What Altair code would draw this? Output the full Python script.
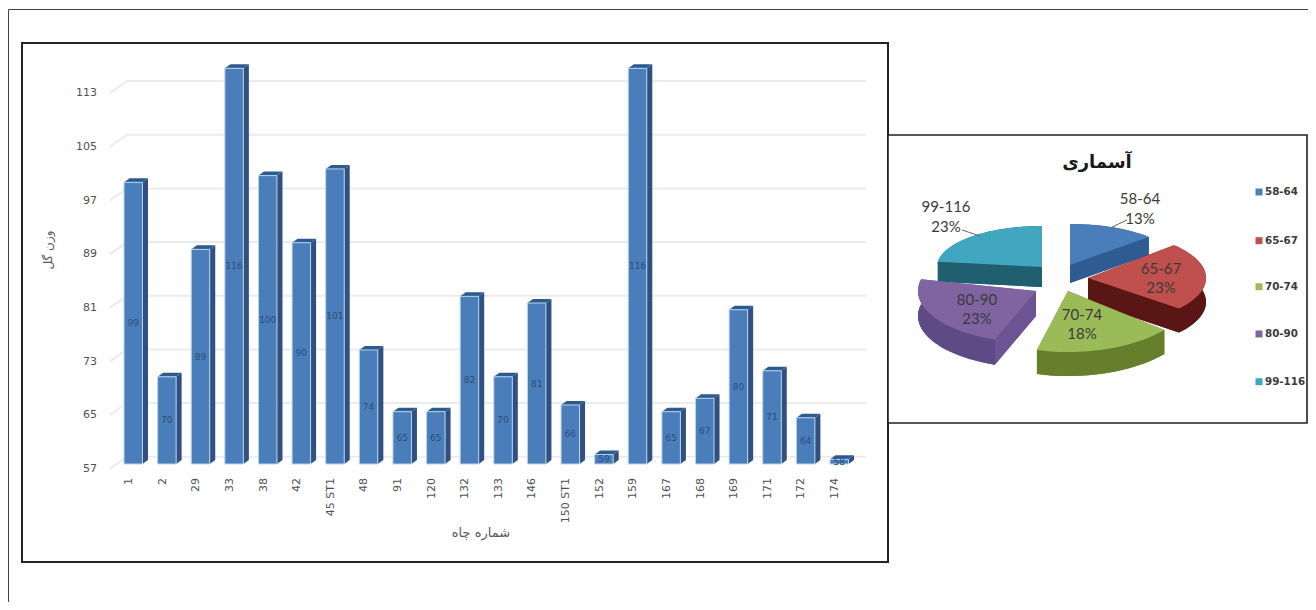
import math
import altair as alt
import pandas as pd

# ---------- data ----------
wells = ["1","2","29","33","38","42","45 ST1","48","91","120","132","133","146","150 ST1","152","159","167","168","169","171","172","174"]
weights = [99,70,89,116,100,90,101,74,65,65,82,70,81,66,59,116,65,67,80,71,64,58]
heights = [99,70,89,116,100,90,101,74,64.8,64.8,82,70,81,65.8,58.4,116,64.8,66.8,80,70.9,63.9,57.7]
y_ticks = [57,65,73,81,89,97,105,113]
ranges = ["58-64","65-67","70-74","80-90","99-116"]
shares = [13,23,18,23,23]
top_colors = ["#4a7ebb","#c0504d","#9bbb59","#8064a2","#41a7c1"]
side_colors = ["#28527f","#5a1614","#657f2d","#5e4a85","#1b5565"]
wall_colors = ["#2e5c92","#5a1614","#657f2d","#6b5394","#1f5f70"]

# ---------- layout ----------
W, H = 1300, 594
BASE = 57
FACE_W, DEP_X, DEP_V = 0.55, 0.164, 0.6
GRID_SHIFT = 1.09
x_scale = alt.Scale(domain=[0, 21], range=[116, 822], nice=False, zero=False)
y_scale = alt.Scale(domain=[57, 116], range=[456, 60.3], nice=False, zero=False)
px_x = alt.Scale(domain=[0, W], range=[0, W], nice=False, zero=False)
px_y = alt.Scale(domain=[0, H], range=[0, H], nice=False, zero=False)

bars = pd.DataFrame({"i": range(len(wells)), "well": wells, "w": weights, "h": heights})
bars["i2"] = bars.i + FACE_W
bars["mid"] = (bars.h + BASE) / 2
bars["tx"] = bars.i + FACE_W / 2
bars["lx"] = bars.i + 0.15
bars["base"] = BASE

grid_rows = []
for t in y_ticks:
    for k, (xx, vv) in enumerate([(-0.42, t - 0.7), (0.09, t + GRID_SHIFT), (22.07, t + GRID_SHIFT)]):
        grid_rows.append({"g": t, "k": k, "x": xx, "y": vv})
grid = pd.DataFrame(grid_rows)

face_rows = []
for i, h in enumerate(heights):
    top = [(i, h), (i + FACE_W, h), (i + FACE_W + DEP_X, h + DEP_V), (i + DEP_X, h + DEP_V)]
    side = [(i + FACE_W, BASE), (i + FACE_W + DEP_X, BASE + DEP_V), (i + FACE_W + DEP_X, h + DEP_V), (i + FACE_W, h)]
    for k, (a, b) in enumerate(side):
        face_rows.append({"p": f"s{i}", "k": k, "x": a, "y": b, "c": "#2f5080"})
    for k, (a, b) in enumerate(top):
        face_rows.append({"p": f"t{i}", "k": k, "x": a, "y": b, "c": "#2d5a8f"})
faces = pd.DataFrame(face_rows)

X = lambda f="x:Q": alt.X(f, scale=x_scale, axis=None)
Y = lambda f="y:Q": alt.Y(f, scale=y_scale, axis=None)

grid_l = alt.Chart(grid).mark_line(color="#ebebeb", strokeWidth=2).encode(
    x=X(), y=Y(), detail="g:N", order="k:Q")
face_l = alt.Chart(faces).mark_line(interpolate="linear-closed", strokeWidth=0).encode(
    x=X(), y=Y(), detail="p:N", order="k:Q", fill=alt.Fill("c:N", scale=None))
bar_l = alt.Chart(bars).mark_rect(fill="#4a7ebb", stroke="#b8d4ea", strokeWidth=1).encode(
    x=X("i:Q"), x2="i2:Q", y=Y("h:Q"), y2="base:Q")
val_l = alt.Chart(bars).mark_text(font="DejaVu Sans", fontSize=9, color="#2c4c78").encode(
    x=X("tx:Q"), y=Y("mid:Q"), text="w:N")
xlab_l = alt.Chart(bars).mark_text(font="DejaVu Sans", fontSize=11, color="#505050", angle=270, align="right", baseline="middle").encode(
    x=X("lx:Q"), y=alt.value(470), text="well:N")
ylab_l = alt.Chart(pd.DataFrame({"v": y_ticks})).mark_text(font="DejaVu Sans", fontSize=11, color="#505050", align="right", baseline="middle", dy=5).encode(
    x=alt.value(89), y=Y("v:Q"), text="v:N")
bar_chart = alt.layer(grid_l, face_l, bar_l, val_l, xlab_l, ylab_l)

# ---------- pie ----------
# per-slice: apex x, apex y, radius x, radius y, depth, drawn-angle turn in degrees
geom = [
    (1062, 257, 108, 41, 18, 0),
    (1080, 270, 118, 48, 24, 0),
    (1060, 283, 125, 61, 24, 0),
    (1028, 283, 118, 52, 25, 6),
    (1034, 259, 105, 41, 20, 0),
]
pie_rows = []
def add(name, pts, color):
    for k, (a, b) in enumerate(pts):
        pie_rows.append({"p": name, "k": k, "x": a, "y": b, "c": color})
def build():
    cum = 0
    arcs = []
    for s in shares:
        t0, t1 = cum / 100 * 2 * math.pi, (cum + s) / 100 * 2 * math.pi
        cum += s
        arcs.append((t0, t1))
    for idx in [4, 0, 3, 1, 2]:
        cx, cy, a, b, d, turn = geom[idx]
        t0, t1 = arcs[idx][0] + math.radians(turn), arcs[idx][1] + math.radians(turn)
        n = 30
        arc = [(cx + a * math.sin(t0 + (t1 - t0) * j / n), cy - b * math.cos(t0 + (t1 - t0) * j / n)) for j in range(n + 1)]
        low = [(p, q + d) for p, q in arc]
        add(f"{idx}a", [(cx, cy + d)] + low, side_colors[idx])
        add(f"{idx}b", arc + low[::-1], side_colors[idx])
        add(f"{idx}c", [(cx, cy), arc[0], low[0], (cx, cy + d)], wall_colors[idx])
        add(f"{idx}d", [(cx, cy), arc[-1], low[-1], (cx, cy + d)], wall_colors[idx])
        add(f"{idx}e", [(cx, cy)] + arc, top_colors[idx])
build()
pie_df = pd.DataFrame(pie_rows)
PX = lambda f="x:Q": alt.X(f, scale=px_x, axis=None)
PY = lambda f="y:Q": alt.Y(f, scale=px_y, axis=None)

frame_pie = alt.Chart(pd.DataFrame({"a": [880], "b": [1299], "c": [127], "d": [415]})).mark_rect(
    fill="white", stroke="#222222", strokeWidth=1.6).encode(
    x=PX("a:Q"), x2="b:Q", y=PY("c:Q"), y2="d:Q")
polys = [
    alt.Chart(pie_df[pie_df.p == name]).mark_line(interpolate="linear-closed", strokeWidth=0).encode(
        x=PX(), y=PY(), order="k:Q", fill=alt.Fill("c:N", scale=None))
    for name in dict.fromkeys(pie_df.p)
]
label_pos = [(1132, 191, 211), (1153, 261, 280), (1074, 307, 326), (969, 292, 311), (938, 199, 219)]
lab_rows = []
for r, s, (lx, y1, y2) in zip(ranges, shares, label_pos):
    lab_rows.append({"x": lx, "y": y1, "t": r})
    lab_rows.append({"x": lx, "y": y2, "t": f"{s}%"})
pie_labels = alt.Chart(pd.DataFrame(lab_rows)).mark_text(font="Lato", fontSize=15, color="#3a3a3a").encode(
    x=PX(), y=PY(), text="t:N")
leader = alt.Chart(pd.DataFrame([
    {"g": 0, "k": 0, "x": 1119, "y": 212}, {"g": 0, "k": 1, "x": 1102, "y": 220},
    {"g": 1, "k": 0, "x": 954, "y": 222}, {"g": 1, "k": 1, "x": 972, "y": 228},
])).mark_line(color="#666666", strokeWidth=1).encode(x=PX(), y=PY(), detail="g:N", order="k:Q")
leg_y = [184, 232.7, 278.7, 326, 373.7]
leg_df = pd.DataFrame({"r": ranges, "y": leg_y, "x": [1251] * 5, "tx": [1257] * 5, "c": top_colors})
leg_sym = alt.Chart(leg_df).mark_square(size=49, opacity=1).encode(
    x=PX(), y=PY(), fill=alt.Fill("c:N", scale=None))
leg_txt = alt.Chart(leg_df).mark_text(align="left", font="DejaVu Sans", fontWeight="bold", fontSize=10.3, color="#3a3a3a").encode(
    x=PX("tx:Q"), y=PY(), text="r:N")
pie_title = alt.Chart(pd.DataFrame({"x": [1089], "y": [155], "t": ["آسماری"]})).mark_text(
    font="DejaVu Sans", fontWeight="bold", fontSize=18, color="#1a1a1a").encode(x=PX(), y=PY(), text="t:N")
y_title = alt.Chart(pd.DataFrame({"x": [40], "y": [242], "t": ["وزن گل"]})).mark_text(
    font="DejaVu Sans", fontSize=12, angle=270, color="#595959").encode(x=PX(), y=PY(), text="t:N")
x_title = alt.Chart(pd.DataFrame({"x": [473], "y": [525], "t": ["شماره چاه"]})).mark_text(
    font="DejaVu Sans", fontSize=13, color="#595959").encode(x=PX(), y=PY(), text="t:N")
frames = alt.Chart(pd.DataFrame({"a": [14], "b": [880], "c": [35], "d": [554]})).mark_rect(
    fill="white", stroke="#222222", strokeWidth=2).encode(
    x=PX("a:Q"), x2="b:Q", y=PY("c:Q"), y2="d:Q")
outer = alt.Chart(pd.DataFrame({"g": [0, 0, 0], "k": [0, 1, 2], "x": [W, 0.5, 0.5], "y": [1.5, 1.5, H]})).mark_line(
    color="#444444", strokeWidth=1).encode(x=PX(), y=PY(), detail="g:N", order="k:Q")

px_layer = alt.layer(outer, frames, frame_pie, *polys, pie_labels, leader, leg_sym, leg_txt, pie_title, y_title, x_title)

chart = alt.layer(px_layer, bar_chart).resolve_scale(x="independent", y="independent").properties(
    width=W, height=H, padding=0, autosize=alt.AutoSizeParams(type="none"),
    background="white",
).configure_view(stroke=None)

chart.save("out.html", embed_options={"renderer": "svg", "actions": False})
